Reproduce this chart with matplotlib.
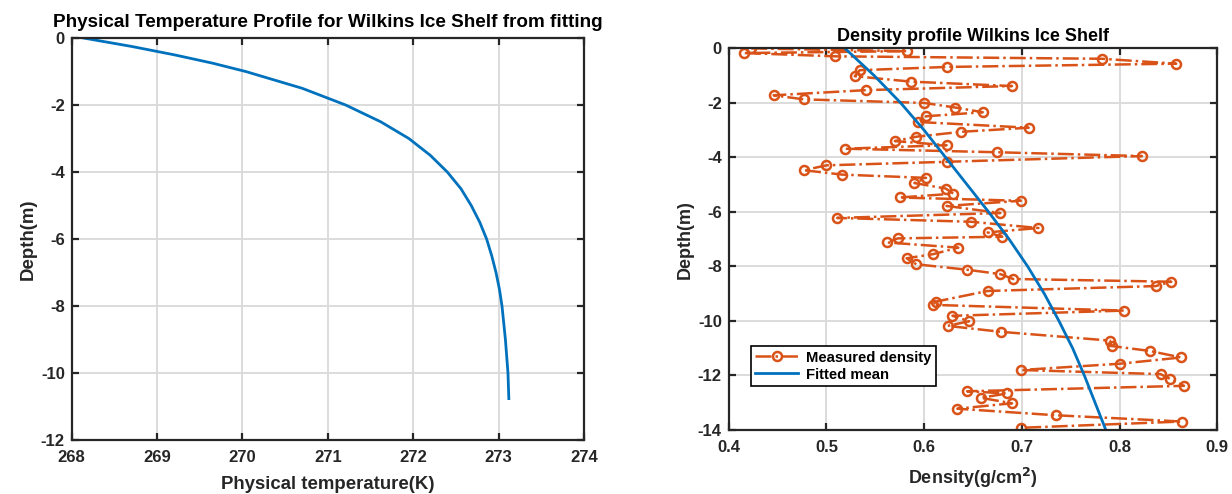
import numpy as np
import matplotlib
matplotlib.use("Agg")
import matplotlib.pyplot as plt

plt.rcParams['font.family'] = ['Liberation Sans', 'DejaVu Sans']
plt.rcParams['font.weight'] = 'bold'
plt.rcParams['axes.unicode_minus'] = False

# Left panel: fitted physical temperature profile
temp_depth = [0, -0.25, -0.5, -0.75, -1.0, -1.5, -2.0, -2.5, -3.0, -3.5, -4.0, -4.5, -5.0,
              -5.5, -6.0, -6.5, -7.0, -7.5, -8.0, -9.0, -10.0, -10.76]
temp_k = [268.14, 268.70, 269.20, 269.65, 270.04, 270.70, 271.21, 271.62, 271.95, 272.20,
          272.40, 272.56, 272.68, 272.78, 272.86, 272.92, 272.97, 273.01, 273.04, 273.08,
          273.11, 273.12]

# Right panel: measured density profile
dens_depth = [0.0, -0.10, -0.17, -0.29, -0.38, -0.56, -0.68, -0.80, -1.02, -1.22,
              -1.38, -1.53, -1.72, -1.87, -2.00, -2.17, -2.34, -2.49, -2.70, -2.91,
              -3.06, -3.24, -3.40, -3.55, -3.68, -3.81, -3.95, -4.16, -4.29, -4.47,
              -4.63, -4.75, -4.94, -5.14, -5.33, -5.47, -5.59, -5.78, -6.04, -6.22,
              -6.36, -6.59, -6.75, -6.91, -6.97, -7.12, -7.31, -7.55, -7.70, -7.92,
              -8.12, -8.28, -8.46, -8.56, -8.72, -8.90, -9.29, -9.41, -9.62, -9.81,
              -10.01, -10.18, -10.40, -10.72, -10.92, -11.10, -11.34, -11.57, -11.80, -11.95,
              -12.13, -12.38, -12.58, -12.66, -12.82, -13.02, -13.22, -13.46, -13.69, -13.92]
dens_val = [0.423, 0.582, 0.416, 0.509, 0.782, 0.858, 0.623, 0.534, 0.529, 0.587,
            0.690, 0.541, 0.446, 0.477, 0.600, 0.632, 0.660, 0.602, 0.594, 0.707,
            0.638, 0.592, 0.570, 0.623, 0.519, 0.675, 0.823, 0.623, 0.500, 0.477,
            0.516, 0.602, 0.590, 0.622, 0.630, 0.575, 0.699, 0.623, 0.678, 0.511,
            0.648, 0.717, 0.665, 0.680, 0.573, 0.562, 0.635, 0.609, 0.582, 0.592,
            0.644, 0.678, 0.691, 0.853, 0.837, 0.665, 0.612, 0.609, 0.805, 0.629,
            0.646, 0.624, 0.679, 0.790, 0.792, 0.831, 0.863, 0.800, 0.699, 0.842,
            0.852, 0.866, 0.644, 0.685, 0.658, 0.690, 0.634, 0.735, 0.864, 0.699]

# fitted mean density
fit_depth = [0, -1, -2, -3, -4, -5, -6, -7, -8, -9, -10, -11, -12, -13, -14]
fit_val = [0.519, 0.549, 0.576, 0.600, 0.622, 0.644, 0.666, 0.687, 0.706, 0.723,
           0.738, 0.752, 0.764, 0.775, 0.786]

txt = '#262626'
grid_c = '#d9d9d9'


def style(ax):
    ax.grid(True, color=grid_c, linewidth=1.3)
    ax.set_axisbelow(True)
    for s in ax.spines.values():
        s.set_linewidth(1.6)
        s.set_color(txt)
    ax.tick_params(direction='in', length=5, width=1.6, top=True, right=True,
                   labelsize=12, colors=txt)
    ax.tick_params(axis='x', pad=7)
    ax.tick_params(axis='y', pad=5)
    for lab in ax.get_xticklabels() + ax.get_yticklabels():
        lab.set_fontweight('bold')


fig = plt.figure(figsize=(12.32, 4.94), dpi=100)

ax1 = fig.add_axes([0.0582, 0.109, 0.4158, 0.814])
ax1.plot(temp_k, temp_depth, color='#0072BD', linewidth=2)
ax1.set_xlim(268, 274)
ax1.set_ylim(-12, 0)
ax1.set_xticks(np.arange(268, 275, 1))
ax1.set_yticks(np.arange(-12, 1, 2))
style(ax1)
ax1.set_xlabel('Physical temperature(K)', fontsize=13.4, fontweight='bold', color=txt, labelpad=8)
ax1.set_ylabel('Depth(m)', fontsize=13.4, fontweight='bold', color=txt, labelpad=3)
ax1.set_title('Physical Temperature Profile for Wilkins Ice Shelf from fitting',
              fontsize=13.6, fontweight='bold', pad=8)

ax2 = fig.add_axes([0.5915, 0.1296, 0.3965, 0.7724])
ax2.plot(dens_val, dens_depth, linestyle='-.', color='#D95319', linewidth=1.8,
         marker='o', markersize=6.5, markerfacecolor='none', markeredgewidth=1.8,
         label='Measured density')
ax2.plot(fit_val, fit_depth, color='#0072BD', linewidth=2, label='Fitted mean')
ax2.set_xlim(0.4, 0.9)
ax2.set_ylim(-14, 0)
ax2.set_xticks(np.arange(0.4, 0.91, 0.1))
ax2.set_yticks(np.arange(-14, 1, 2))
ax2.set_xticklabels(['0.4', '0.5', '0.6', '0.7', '0.8', '0.9'])
style(ax2)
ax2.set_xlabel('Density(g/cm$^\\mathbf{2}$)', fontsize=13, fontweight='bold', color=txt, labelpad=8)
ax2.set_ylabel('Depth(m)', fontsize=13, fontweight='bold', color=txt, labelpad=3)
ax2.set_title('Density profile Wilkins Ice Shelf', fontsize=13, fontweight='bold', pad=5)
leg = ax2.legend(loc='lower left', bbox_to_anchor=(0.045, 0.115), fancybox=False,
                 edgecolor='black', framealpha=1, prop={'weight': 'bold', 'size': 10.7},
                 borderpad=0.3, labelspacing=0.2, handlelength=2.9, handletextpad=0.5,
                 borderaxespad=0)
leg.get_frame().set_linewidth(1.2)

fig.savefig('out.png', dpi=100)
